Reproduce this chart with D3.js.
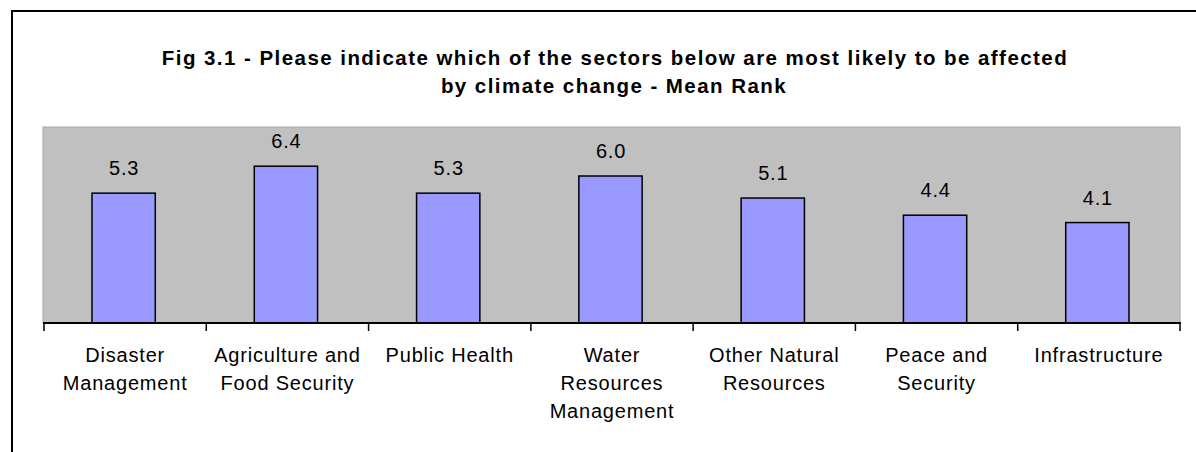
<!DOCTYPE html>
<html>
<head>
<meta charset="utf-8">
<script src="https://cdn.jsdelivr.net/npm/d3@7"></script>
<style>
  html, body { margin: 0; padding: 0; background: #ffffff; }
  svg { display: block; }
  text { font-family: "Liberation Sans", Arial, sans-serif; fill: #000; }
</style>
</head>
<body>
<svg id="chart" width="1196" height="452"></svg>
<script>
// Sectors (each entry holds the wrapped lines of its axis label)
const categories = [
  ["Disaster", "Management"],
  ["Agriculture and", "Food Security"],
  ["Public Health"],
  ["Water", "Resources", "Management"],
  ["Other Natural", "Resources"],
  ["Peace and", "Security"],
  ["Infrastructure"]
];
// Mean rank per sector
const meanRank = [5.3, 6.4, 5.3, 6.0, 5.1, 4.4, 4.1];
const titleLines = [
  "Fig 3.1 - Please indicate which of the sectors below are most likely to be affected",
  "by climate change - Mean Rank"
];
const valueDomain = [0, 8];

const svg = d3.select("#chart");
const W = 1196, H = 452;
const plot = { left: 44, right: 1180, top: 127, bottom: 323 };

// Chart frame (runs off the right and bottom edges)
svg.append("rect")
  .attr("x", 12).attr("y", 11)
  .attr("width", W + 20).attr("height", H + 20)
  .attr("fill", "#ffffff")
  .attr("stroke", "#000").attr("stroke-width", 2);

// Title
const title = svg.append("text")
  .attr("text-anchor", "middle")
  .style("font-weight", "bold")
  .style("font-size", "20.5px")
  .style("letter-spacing", "1.45px");
title.selectAll("tspan").data(titleLines).join("tspan")
  .attr("x", (d, i) => i === 0 ? 615 : 614)
  .attr("y", (d, i) => 65 + i * 28)
  .text(d => d);

const keys = categories.map(c => c.join(" "));
const x = d3.scaleBand()
  .domain(keys)
  .range([plot.left, plot.right])
  .paddingInner(0.61)
  .paddingOuter(0.305);
const y = d3.scaleLinear().domain(valueDomain).range([plot.bottom, plot.top]);

// Plot area
svg.append("rect")
  .attr("x", plot.left - 1).attr("y", plot.top)
  .attr("width", plot.right - plot.left + 1)
  .attr("height", plot.bottom - plot.top)
  .attr("fill", "#c0c0c0")
  .attr("stroke", "#a8a8a8").attr("stroke-width", 1);

// Bars
svg.append("g").selectAll("rect")
  .data(meanRank)
  .join("rect")
  .attr("x", (d, i) => x(keys[i]) - 1.5)
  .attr("y", d => y(d))
  .attr("width", x.bandwidth())
  .attr("height", d => y(0) - y(d))
  .attr("fill", "#9999ff")
  .attr("stroke", "#000")
  .attr("stroke-width", 1.5);

// Value labels
svg.append("g").selectAll("text")
  .data(meanRank)
  .join("text")
  .attr("x", (d, i) => x(keys[i]) + x.bandwidth() / 2 - 1)
  .attr("y", d => y(d) - 18)
  .attr("text-anchor", "middle")
  .style("font-size", "20px")
  .style("letter-spacing", "0.8px")
  .text(d => d.toFixed(1));

// Category axis with boundary ticks
const step = x.step();
const boundaries = d3.range(categories.length + 1).map(i => plot.left + i * step);
const axis = svg.append("g");
axis.append("line")
  .attr("x1", plot.left - 1).attr("x2", plot.right + 1)
  .attr("y1", plot.bottom).attr("y2", plot.bottom)
  .attr("stroke", "#000").attr("stroke-width", 2);
axis.selectAll("line.tick")
  .data(boundaries)
  .join("line")
  .attr("class", "tick")
  .attr("x1", d => d).attr("x2", d => d)
  .attr("y1", plot.bottom).attr("y2", plot.bottom + 8)
  .attr("stroke", "#000").attr("stroke-width", 1.5);

const labels = axis.selectAll("text.cat")
  .data(categories)
  .join("text")
  .attr("class", "cat")
  .attr("text-anchor", "middle")
  .style("font-size", "20px")
  .style("letter-spacing", "0.8px");
labels.each(function(lines, i) {
  const cx = x(keys[i]) + x.bandwidth() / 2;
  d3.select(this).selectAll("tspan")
    .data(lines)
    .join("tspan")
    .attr("x", cx)
    .attr("y", (d, j) => 362 + j * 28)
    .text(d => d);
});
</script>
</body>
</html>
